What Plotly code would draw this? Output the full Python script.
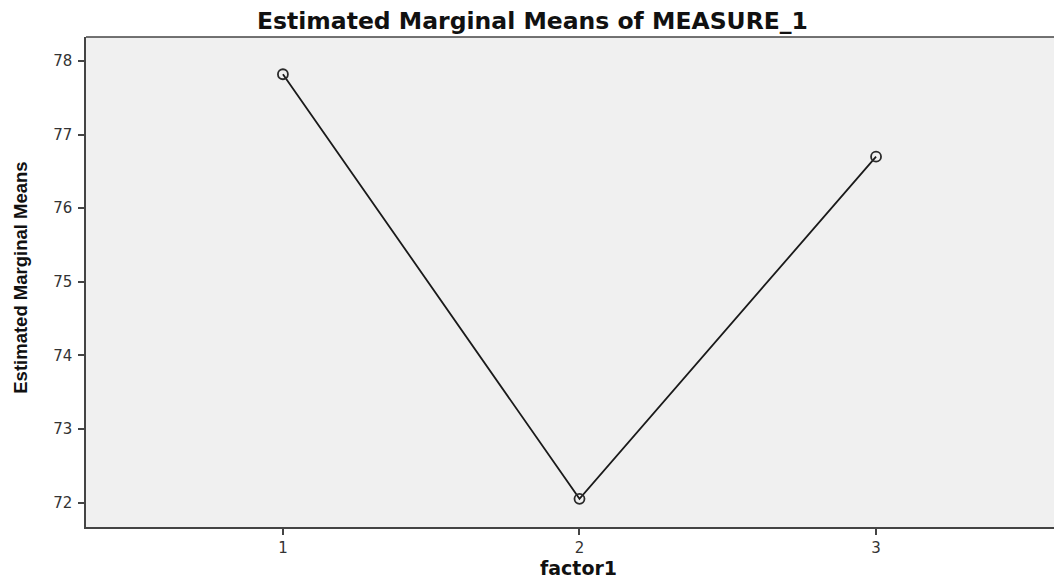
import plotly.graph_objects as go

factor_levels = [1, 2, 3]
marginal_means = [77.82, 72.05, 76.70]
y_ticks = [72, 73, 74, 75, 76, 77, 78]
x_ticks = [1, 2, 3]

fig = go.Figure()
fig.add_trace(go.Scatter(
    x=factor_levels, y=marginal_means, mode="lines+markers",
    line=dict(color="#1a1a1a", width=1.8),
    marker=dict(symbol="circle-open", size=10, color="#2a2a2a", line=dict(width=1.8)),
    showlegend=False,
))

# page has an 8px body margin; figure coordinates are offset accordingly
W, H = 1054, 573
L, T, B = 78, 29, 54
fig.update_layout(
    width=W, height=H,
    margin=dict(l=L, r=0, t=T, b=B),
    paper_bgcolor="white",
    plot_bgcolor="#F0F0F0",
    font=dict(family="DejaVu Sans, Arial, sans-serif", color="#222222"),
    xaxis=dict(
        range=[0.336, 3.627], tickvals=x_ticks, ticktext=[str(v) for v in x_ticks],
        showgrid=False, zeroline=False, showline=True, linecolor="#444444", linewidth=1.5,
        ticks="outside", ticklen=6, tickwidth=1.5, tickcolor="#444444",
        tickfont=dict(size=15, color="#333333"),
    ),
    yaxis=dict(
        range=[71.667, 78.326], tickvals=y_ticks, ticktext=[str(v) for v in y_ticks],
        showgrid=False, zeroline=False, showline=True, linecolor="#444444", linewidth=1.5,
        ticks="outside", ticklen=6, tickwidth=1.5, tickcolor="#444444",
        tickfont=dict(size=15, color="#333333"), ticklabelstandoff=3,
    ),
    shapes=[dict(type="line", xref="paper", yref="paper", x0=0, x1=1, y0=1, y1=1,
                 line=dict(color="#444444", width=1.5))],
    annotations=[
        dict(text="<b>Estimated Marginal Means of MEASURE_1</b>", xref="paper", yref="paper",
             x=(524.5 - L) / (W - L), y=1, yshift=16, showarrow=False,
             font=dict(size=23.5, color="#111111"), xanchor="center", yanchor="middle"),
        dict(text="<b>factor1</b>", xref="paper", yref="paper",
             x=(570 - L) / (W - L), y=0, yshift=-41, showarrow=False,
             font=dict(size=19, color="#111111"), xanchor="center", yanchor="middle"),
        dict(text="<b>Estimated Marginal Means</b>", xref="paper", yref="paper",
             x=0, xshift=-65, y=0.5087, showarrow=False, textangle=-90,
             font=dict(size=18.5, color="#111111", family="Liberation Sans Narrow, Arial Narrow, sans-serif"),
             xanchor="center", yanchor="middle"),
    ],
)

fig.write_html("out.html")
